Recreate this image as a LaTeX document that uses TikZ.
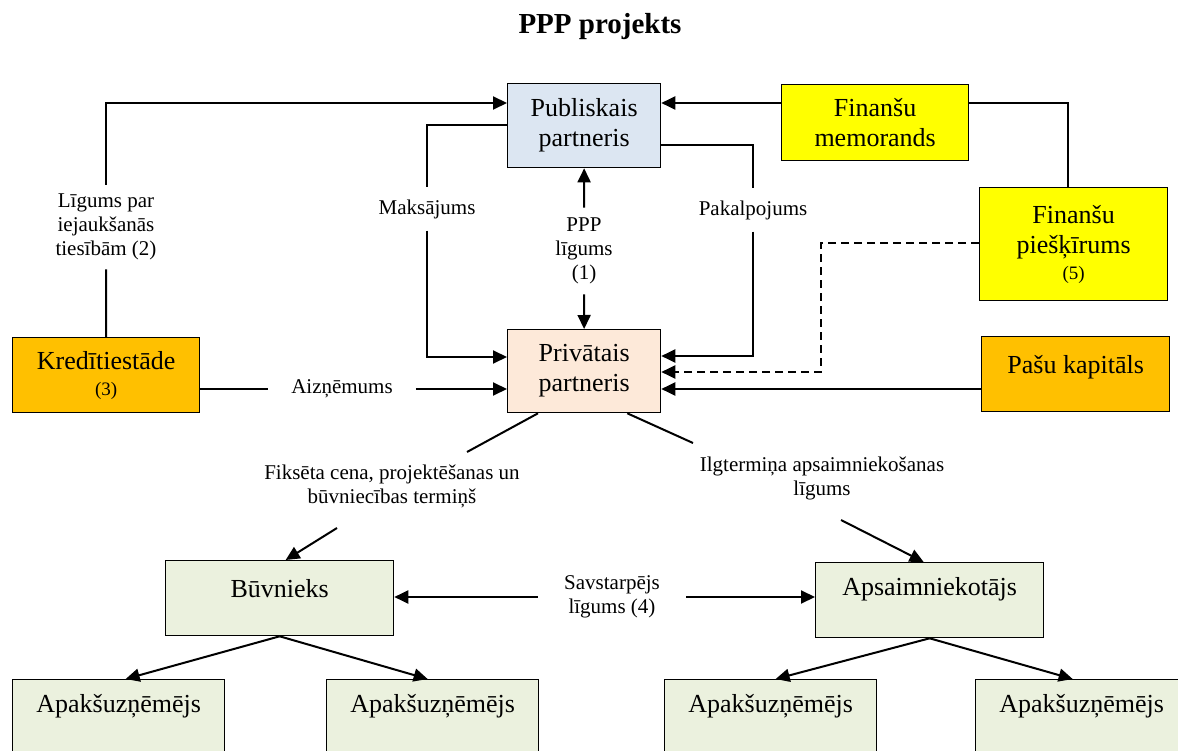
\documentclass[tikz,border=0pt]{standalone}
\usepackage{fontspec}
\setmainfont{Liberation Serif}
\usetikzlibrary{arrows.meta,calc}
\definecolor{pubc}{HTML}{DCE6F2}
\definecolor{privc}{HTML}{FDE9D9}
\definecolor{orc}{HTML}{FFC000}
\definecolor{yelc}{HTML}{FFFF00}
\definecolor{grc}{HTML}{EBF1DE}
\begin{document}
\begin{tikzpicture}[x=1pt,y=-1pt,
  box/.style={draw=black, line width=1.3pt, align=center, font=\fontsize{26}{30}\selectfont, inner sep=0pt, anchor=north west},
  lbl/.style={align=center, font=\fontsize{21}{24}\selectfont, inner sep=0pt},
  arr/.style={-{Triangle[length=14pt,width=13pt]}},
  conn/.style={line width=2pt, line join=miter}]
\useasboundingbox (0,0) rectangle (1178,751);
\clip (0,0) rectangle (1178,751);

\node[font=\bfseries\fontsize{29}{33}\selectfont] (title) at (600,27) {PPP projekts};

% boxes
\node[box, fill=pubc, minimum width=153pt, minimum height=84pt] (pub) at (507,83) {Publiskais\\partneris};
\node[box, fill=privc, minimum width=153pt, minimum height=83pt] (priv) at (507,329) {Privātais\\partneris};
\node[box, fill=orc, minimum width=187pt, minimum height=75pt] (kred) at (12,337) {Kredītiestāde\\[-4pt]{\fontsize{19}{21}\selectfont (3)}};
\node[box, fill=yelc, minimum width=187pt, minimum height=76pt] (finm) at (781,84) {Finanšu\\memorands};
\node[box, fill=yelc, minimum width=188pt, minimum height=113pt] (finp) at (979,187) {Finanšu\\piešķīrums\\[-4pt]{\fontsize{19}{21}\selectfont (5)}};
\node[box, fill=orc, minimum width=188pt, text height=37pt, text depth=38pt] (pasu) at (981,336) {Pašu kapitāls};
\node[box, fill=grc, minimum width=228pt, text height=37pt, text depth=38pt] (buv) at (165,560) {Būvnieks};
\node[box, fill=grc, minimum width=228pt, text height=33pt, text depth=42pt] (aps) at (815,562) {Apsaimniekotājs};
\node[box, fill=grc, minimum width=212pt, text height=33pt, text depth=90pt] (ap1) at (12,679) {Apakšuzņēmējs};
\node[box, fill=grc, minimum width=212pt, text height=33pt, text depth=90pt] (ap2) at (326,679) {Apakšuzņēmējs};
\node[box, fill=grc, minimum width=212pt, text height=33pt, text depth=90pt] (ap3) at (664,679) {Apakšuzņēmējs};
\node[box, fill=grc, minimum width=212pt, text height=33pt, text depth=90pt] (ap4) at (975,679) {Apakšuzņēmējs};

% labels
\node[lbl, inner ysep=9pt] (l2) at (106,227) {Līgums par\\iejaukšanās\\tiesībām (2)};
\node[lbl, inner ysep=12pt] (lm) at (427,209) {Maksājums};
\node[lbl, inner ysep=12pt] (lp) at (753,210) {Pakalpojums};
\node[lbl, inner ysep=10pt] (lppp) at (584,251) {PPP\\līgums\\(1)};
\node[lbl, inner xsep=23pt] (la) at (342,389) {Aizņēmums};
\node[lbl] (lf) at (392,486) {Fiksēta cena, projektēšanas un\\būvniecības termiņš};
\node[lbl] (li) at (822,478) {Ilgtermiņa apsaimniekošanas\\līgums};
\node[lbl, inner xsep=26pt] (ls) at (612,597) {Savstarpējs\\līgums (4)};

\coordinate (f1) at (467,452);
\coordinate (f2) at (337,528);
\coordinate (g1) at (693,443);
\coordinate (g2) at (841,520);

% connectors upper
\draw[conn] (kred.north) -- (l2.south);
\draw[conn,arr] (l2.north) |- ([yshift=-20pt]pub.north west);
\draw[conn] ([yshift=-42pt]pub.north west) -| (lm.north);
\draw[conn,arr] (lm.south) |- ([yshift=-28pt]priv.north west);
\draw[conn] ([yshift=-62pt]pub.north east) -| (lp.north);
\draw[conn,arr] (lp.south) |- ([yshift=-27pt]priv.north east);
\draw[conn,arr] (lppp.north) -- (pub.south);
\draw[conn,arr] (lppp.south) -- (priv.north);
\draw[conn,arr] ([yshift=-19pt]finm.north west) -- ([yshift=-20pt]pub.north east);
\draw[conn] ([yshift=-19pt]finm.north east) -| ([xshift=-6pt]finp.north);
\draw[conn,arr,dash pattern=on 8pt off 5pt] ([yshift=-56pt]finp.north west) -| ([xshift=160pt,yshift=-43pt]priv.north east) -- ([yshift=-43pt]priv.north east);
\draw[conn,arr] ([yshift=-53pt]pasu.north west) -- ([yshift=-60pt]priv.north east);
\draw[conn] ([yshift=-52pt]kred.north east) -- (la.west);
\draw[conn,arr] (la.east) -- ([yshift=-60pt]priv.north west);

% connectors lower
\draw[conn] ([xshift=31pt]priv.south west) -- (f1);
\draw[conn,arr] (f2) -- ([xshift=6pt]buv.north);
\draw[conn] ([xshift=-34pt]priv.south east) -- (g1);
\draw[conn,arr] (g2) -- ([xshift=-6pt]aps.north);
\draw[conn,arr] (ls.west) -- (ls.west -| buv.east);
\draw[conn,arr] (ls.east) -- (ls.east -| aps.west);
\draw[conn,arr] (buv.south) -- ([xshift=7pt]ap1.north);
\draw[conn,arr] (buv.south) -- ([xshift=-5pt]ap2.north);
\draw[conn,arr] (aps.south) -- ([xshift=5pt]ap3.north);
\draw[conn,arr] (aps.south) -- ([xshift=-9pt]ap4.north);
\end{tikzpicture}
\end{document}
